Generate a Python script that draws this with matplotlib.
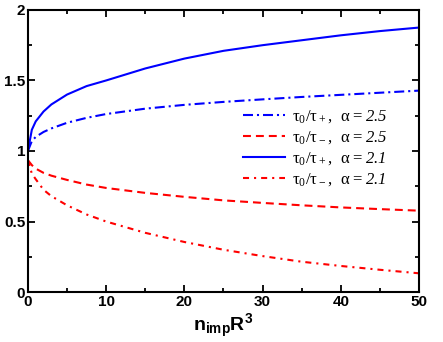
import numpy as np
import matplotlib
matplotlib.use("Agg")
import matplotlib.pyplot as plt

plt.rcParams['font.family'] = ['Liberation Sans', 'DejaVu Sans']
plt.rcParams['mathtext.fontset'] = 'custom'
plt.rcParams['mathtext.rm'] = 'Liberation Serif'
plt.rcParams['mathtext.sf'] = 'Liberation Serif:italic'   # italic digits
plt.rcParams['mathtext.bf'] = 'Liberation Sans:bold'

# values
n_imp = [0, 0.5, 1, 2, 3, 5, 7.5, 10, 15, 20, 25, 30, 35, 40, 45, 50]
plus_25 = [1.0, 1.07, 1.10, 1.135, 1.16, 1.20, 1.235, 1.262, 1.30, 1.327,
           1.348, 1.366, 1.383, 1.398, 1.413, 1.428]
minus_25 = [0.935, 0.90, 0.875, 0.845, 0.825, 0.795, 0.762, 0.738, 0.703,
            0.675, 0.650, 0.632, 0.615, 0.600, 0.588, 0.577]
plus_21 = [1.0, 1.15, 1.21, 1.28, 1.33, 1.40, 1.46, 1.50, 1.585, 1.655,
           1.71, 1.75, 1.785, 1.82, 1.85, 1.875]
minus_21 = [0.935, 0.84, 0.80, 0.725, 0.68, 0.615, 0.55, 0.50, 0.42, 0.355,
            0.30, 0.255, 0.215, 0.185, 0.158, 0.133]

labels = [r"$\mathrm{τ_0/τ_+,\ α=}\mathsf{2.5}$",
          r"$\mathrm{τ_0/τ_-,\ α=}\mathsf{2.5}$",
          r"$\mathrm{τ_0/τ_+,\ α=}\mathsf{2.1}$",
          r"$\mathrm{τ_0/τ_-,\ α=}\mathsf{2.1}$"]

fig = plt.figure(figsize=(4.43, 3.42), dpi=100)
ax = fig.add_axes([0.063, 0.146, 0.883, 0.825])

lw = 1.5
ax.plot(n_imp, plus_25, color='#0000ff', lw=lw, ls=(0, (4.8, 1.9, 1, 1.9)), label=labels[0])
ax.plot(n_imp, minus_25, color='#ff0000', lw=lw, ls=(0, (3.8, 2.4)), label=labels[1])
ax.plot(n_imp, plus_21, color='#0000ff', lw=lw, ls='-', label=labels[2])
ax.plot(n_imp, minus_21, color='#ff0000', lw=lw, ls=(0, (2.9, 2.4, 1, 2.4)), label=labels[3])

ax.set_xlim(0, 50)
ax.set_ylim(0, 2)
ax.set_xticks([0, 10, 20, 30, 40, 50])
ax.set_xticks(np.arange(0, 51, 5), minor=True)
ax.set_yticks([0, 0.5, 1, 1.5, 2])
ax.set_yticklabels(['0', '0.5', '1', '1.5', '2'])
ax.set_yticks(np.arange(0, 2.01, 0.25), minor=True)

for s in ax.spines.values():
    s.set_linewidth(1.5)
ax.tick_params(which='both', direction='in', top=True, right=True, width=1.3)
ax.tick_params(which='major', length=5, labelsize=11, pad=2)
ax.tick_params(which='minor', length=3)
for t in ax.get_xticklabels() + ax.get_yticklabels():
    t.set_fontweight('bold')

ax.set_xlabel(r"$\mathbf{n_{imp}R^3}$", fontsize=14, labelpad=2)

ax.legend(loc='center left', bbox_to_anchor=(0.55, 0.51), frameon=False,
          fontsize=12, handlelength=2.5, handletextpad=0.45,
          labelspacing=0.25, borderpad=0, borderaxespad=0)

fig.savefig("out.png", dpi=100)
